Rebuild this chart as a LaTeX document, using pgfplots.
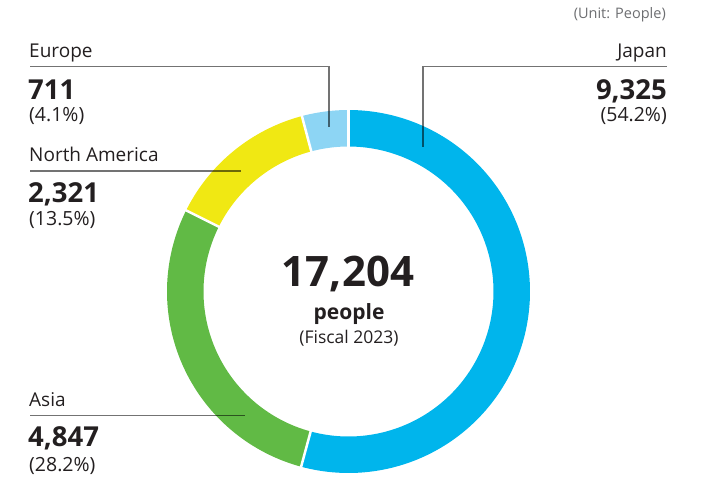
\documentclass[border=0pt]{standalone}
\usepackage{pgfplots}
\pgfplotsset{compat=1.18}
\usepackage{xfp}
\usepackage{fontspec}
\setmainfont{Open Sans}
\definecolor{cJapan}{HTML}{00B5EC}
\definecolor{cAsia}{HTML}{61BA45}
\definecolor{cNA}{HTML}{F0E813}
\definecolor{cEurope}{HTML}{8DD5F4}
\definecolor{cText}{HTML}{231F20}
\definecolor{cUnit}{HTML}{6D6E71}
% data (people, fiscal 2023)
\def\vJapan{9325}
\def\vAsia{4847}
\def\vNA{2321}
\def\vEurope{711}
\def\vTotal{17204}
\edef\aA{90}
\edef\aB{\fpeval{90-360*\vJapan/\vTotal}}
\edef\aC{\fpeval{\aB-360*\vAsia/\vTotal}}
\edef\aD{\fpeval{\aC-360*\vNA/\vTotal}}
\edef\aE{\fpeval{\aD-360*\vEurope/\vTotal}}
\def\cx{348.5}
\def\cy{291.5}
\def\rr{163.25}
\begin{document}
\begin{tikzpicture}
\begin{axis}[
  x=1pt, y=1pt, y dir=reverse,
  xmin=0, xmax=702, ymin=0, ymax=481,
  hide axis, clip=false,
]
% ring slices
\addplot[draw=cJapan, line width=36.5pt, domain=\aB:\aA, samples=150] ({\cx+\rr*cos(x)},{\cy-\rr*sin(x)});
\addplot[draw=cAsia, line width=36.5pt, domain=\aC:\aB, samples=100] ({\cx+\rr*cos(x)},{\cy-\rr*sin(x)});
\addplot[draw=cNA, line width=36.5pt, domain=\aD:\aC, samples=60] ({\cx+\rr*cos(x)},{\cy-\rr*sin(x)});
\addplot[draw=cEurope, line width=36.5pt, domain=\aE:\aD, samples=30] ({\cx+\rr*cos(x)},{\cy-\rr*sin(x)});
% separators
\addplot[white, line width=2.5pt, domain=138:192, samples=2] ({\cx+x*cos(\aA)},{\cy-x*sin(\aA)});
\addplot[white, line width=2.5pt, domain=138:192, samples=2] ({\cx+x*cos(\aB)},{\cy-x*sin(\aB)});
\addplot[white, line width=2.5pt, domain=138:192, samples=2] ({\cx+x*cos(\aC)},{\cy-x*sin(\aC)});
\addplot[white, line width=2.5pt, domain=138:192, samples=2] ({\cx+x*cos(\aD)},{\cy-x*sin(\aD)});
% leader lines
\addplot[black, opacity=0.55, line width=1.2pt] coordinates {(30,66.7) (329,66.7) (329,127)};
\addplot[black, opacity=0.55, line width=1.2pt] coordinates {(667,66.7) (423,66.7) (423,147)};
\addplot[black, opacity=0.55, line width=1.2pt] coordinates {(30,171) (241,171)};
\addplot[black, opacity=0.55, line width=1.2pt] coordinates {(30,415.7) (245,415.7)};
% labels
\node[anchor=base east, inner sep=0pt, text=cUnit, font=\fontsize{14.5}{17}\selectfont] at (axis cs:666,18.3) {(Unit: People)};
\node[anchor=base west, inner sep=0pt, text=cText, font=\fontsize{19}{22}\selectfont] at (axis cs:29,58) {Europe};
\node[anchor=base west, inner sep=0pt, text=cText, font=\bfseries\fontsize{27.5}{32}\selectfont] at (axis cs:28,100) {711};
\node[anchor=base west, inner sep=0pt, text=cText, font=\fontsize{19.5}{22}\selectfont] at (axis cs:29,121.7) {(4.1\%)};
\node[anchor=base west, inner sep=0pt, text=cText, font=\fontsize{19}{22}\selectfont] at (axis cs:29,162) {North America};
\node[anchor=base west, inner sep=0pt, text=cText, font=\bfseries\fontsize{27.5}{32}\selectfont] at (axis cs:28,202.7) {2,321};
\node[anchor=base west, inner sep=0pt, text=cText, font=\fontsize{19.5}{22}\selectfont] at (axis cs:29,225.7) {(13.5\%)};
\node[anchor=base east, inner sep=0pt, text=cText, font=\fontsize{19}{22}\selectfont] at (axis cs:667,58) {Japan};
\node[anchor=base east, inner sep=0pt, text=cText, font=\bfseries\fontsize{27.5}{32}\selectfont] at (axis cs:667,100) {9,325};
\node[anchor=base east, inner sep=0pt, text=cText, font=\fontsize{19.5}{22}\selectfont] at (axis cs:667,121.7) {(54.2\%)};
\node[anchor=base west, inner sep=0pt, text=cText, font=\fontsize{19}{22}\selectfont] at (axis cs:29,406.7) {Asia};
\node[anchor=base west, inner sep=0pt, text=cText, font=\bfseries\fontsize{27.5}{32}\selectfont] at (axis cs:28,446.7) {4,847};
\node[anchor=base west, inner sep=0pt, text=cText, font=\fontsize{19.5}{22}\selectfont] at (axis cs:29,471) {(28.2\%)};
\node[anchor=base, inner sep=0pt, text=cText, font=\bfseries\fontsize{42}{48}\selectfont] at (axis cs:348,287) {17,204};
\node[anchor=base, inner sep=0pt, text=cText, font=\bfseries\fontsize{21}{25}\selectfont] at (axis cs:349,319.3) {people};
\node[anchor=base, inner sep=0pt, text=cText, font=\fontsize{17.5}{20}\selectfont] at (axis cs:349,343) {(Fiscal 2023)};
\coordinate (bl) at (axis cs:0,481);
\coordinate (tr) at (axis cs:702,0);
\end{axis}
\pgfresetboundingbox
\path (bl) rectangle (tr);
\end{tikzpicture}
\end{document}
